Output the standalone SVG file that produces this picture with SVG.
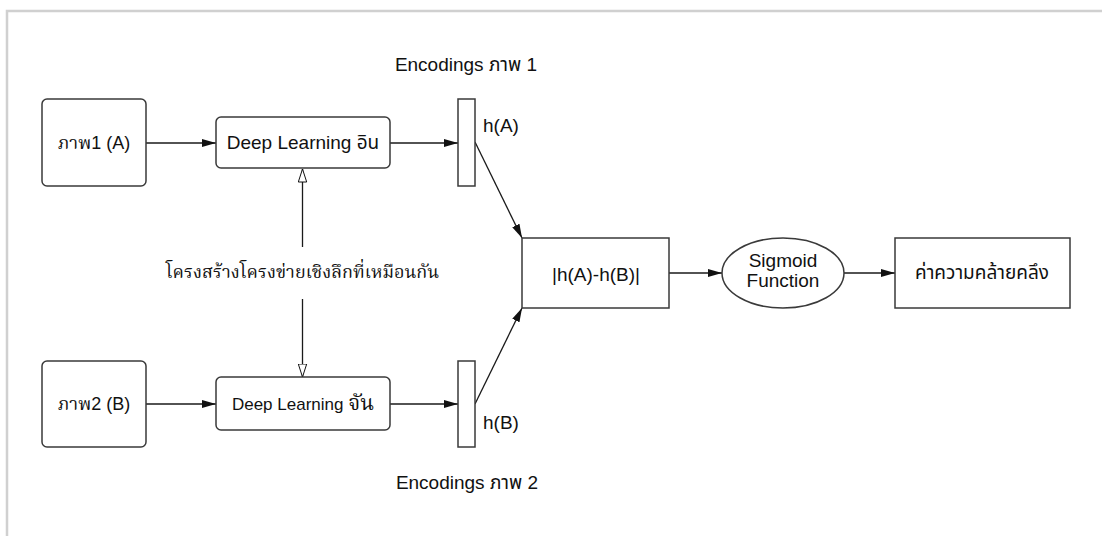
<svg xmlns="http://www.w3.org/2000/svg" width="1102" height="536" viewBox="0 0 1102 536">
<style>
.bg{fill:#ffffff}
.frame{fill:none;stroke:#d0d0d0;stroke-width:2.5}
.box{fill:#ffffff;stroke:#3a3a3a;stroke-width:1.5}
.edge{fill:none;stroke:#1a1a1a;stroke-width:1.3}
.t{font-family:"Liberation Sans","Noto Sans Thai","Noto Sans",Arial,sans-serif;font-size:19px;fill:#111;text-anchor:middle}
.tl{font-family:"Liberation Sans","Noto Sans Thai","Noto Sans",Arial,sans-serif;font-size:19px;fill:#111;text-anchor:start}
.th{font-family:"Noto Serif Thai","Noto Sans Thai","Liberation Serif",serif;font-size:18px;fill:#111;text-anchor:middle}
.tm{font-family:"Liberation Sans","Noto Serif Thai","Noto Sans Thai",sans-serif;font-size:18px;fill:#111;text-anchor:middle}
</style>
<defs>
<marker id="arr" viewBox="0 0 14 8" refX="14" refY="4" markerWidth="14" markerHeight="8" markerUnits="userSpaceOnUse" orient="auto">
<path d="M0,0 L14,4 L0,8 Z" fill="#111"/>
</marker>
<marker id="hollow" viewBox="0 0 14 10" refX="13.5" refY="5" markerWidth="14" markerHeight="10" markerUnits="userSpaceOnUse" orient="auto">
<path d="M0.5,0.8 L13.5,5 L0.5,9.2 Z" fill="#fff" stroke="#111" stroke-width="1"/>
</marker>
</defs>
<rect class="bg" x="0" y="0" width="1102" height="536"/>
<path class="frame" d="M7,536 L7,11 L1102,11"/>

<g id="connectors">
<line class="edge" x1="146" y1="143" x2="216" y2="143" marker-end="url(#arr)"/>
<line class="edge" x1="390" y1="143" x2="458" y2="143" marker-end="url(#arr)"/>
<line class="edge" x1="146" y1="404" x2="216" y2="404" marker-end="url(#arr)"/>
<line class="edge" x1="390" y1="404" x2="458" y2="404" marker-end="url(#arr)"/>
<line class="edge" x1="475" y1="142" x2="522" y2="238" marker-end="url(#arr)"/>
<line class="edge" x1="475" y1="404" x2="522" y2="308" marker-end="url(#arr)"/>
<line class="edge" x1="669" y1="273" x2="722" y2="273" marker-end="url(#arr)"/>
<line class="edge" x1="844" y1="273" x2="895" y2="273" marker-end="url(#arr)"/>
<line class="edge" x1="302.5" y1="247" x2="302.5" y2="169" marker-end="url(#hollow)"/>
<line class="edge" x1="302.5" y1="299" x2="302.5" y2="377" marker-end="url(#hollow)"/>
</g>

<g id="img1">
<rect class="box" x="42" y="99" width="104" height="87" rx="5"/>
<text class="tm" x="94" y="149">ภาพ1 (A)</text>
</g>
<g id="img2">
<rect class="box" x="42" y="361" width="104" height="86" rx="5"/>
<text class="tm" x="94" y="410">ภาพ2 (B)</text>
</g>
<g id="dl1">
<rect class="box" x="216" y="117" width="174" height="51" rx="5"/>
<text class="t" x="303" y="149">Deep Learning อิน</text>
</g>
<g id="dl2">
<rect class="box" x="216" y="377" width="174" height="53" rx="5"/>
<text class="t" x="303" y="410"><tspan font-size="17">Deep Learning </tspan><tspan font-family="Noto Serif Thai, Liberation Serif, serif" font-size="21">จัน</tspan></text>
</g>
<g id="enc1">
<rect class="box" x="458" y="99" width="17" height="87"/>
<text class="tl" x="483" y="132">h(A)</text>
<text class="t" x="466" y="71">Encodings ภาพ 1</text>
</g>
<g id="enc2">
<rect class="box" x="458" y="361" width="17" height="86"/>
<text class="tl" x="483" y="429">h(B)</text>
<text class="t" x="467" y="489">Encodings ภาพ 2</text>
</g>
<g id="shared">
<text class="th" x="302.5" y="278">โครงสร้างโครงข่ายเชิงลึกที่เหมือนกัน</text>
</g>
<g id="diff">
<rect class="box" x="522" y="238" width="147" height="70"/>
<text class="t" x="596" y="281" font-size="21">|h(A)-h(B)|</text>
</g>
<g id="sigmoid">
<ellipse class="box" cx="783" cy="273" rx="61" ry="35"/>
<text class="t" x="783" y="267" font-size="17">Sigmoid</text>
<text class="t" x="783" y="287" font-size="17">Function</text>
</g>
<g id="similarity">
<rect class="box" x="895" y="238" width="175" height="70"/>
<text class="t" x="982" y="279" font-size="19">ค่าความคล้ายคลึง</text>
</g>
</svg>
